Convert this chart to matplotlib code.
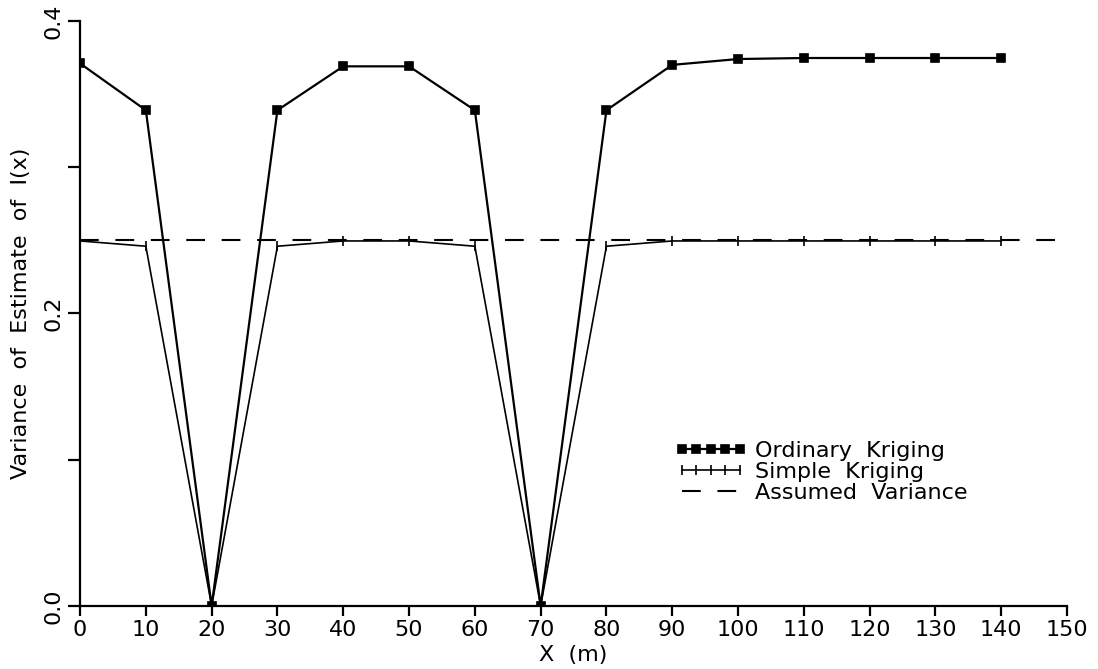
import numpy as np
import matplotlib.pyplot as plt
from matplotlib.ticker import MultipleLocator

# distance along the line (m)
x_pos = [0, 10, 20, 30, 40, 50, 60, 70, 80, 90, 100, 110, 120, 130, 140]

# kriging variances
ordinary = [0.371, 0.339, 0.0, 0.339, 0.369, 0.369, 0.339, 0.0, 0.339,
            0.370, 0.374, 0.3747, 0.3747, 0.3747, 0.3747]
simple = [0.2496, 0.246, 0.0, 0.246, 0.2496, 0.2496, 0.246, 0.0, 0.246,
          0.2496, 0.2496, 0.2496, 0.2496, 0.2496, 0.2496]
assumed_var = 0.25
assumed_x = [0, 150]

x_ticks = list(range(0, 151, 10))
y_ticks = [0.0, 0.2, 0.4]

plt.rcParams['font.family'] = ['DejaVu Sans']

fig = plt.figure(figsize=(10.98, 6.69), dpi=100)
ax = fig.add_axes([0.0729, 0.0942, 0.8989, 0.8744])

ax.plot(x_pos, ordinary, color='black', lw=1.6, marker='s', ms=5.5,
        mfc='black', mec='black', mew=1.2, label='Ordinary  Kriging')
ax.plot(x_pos, simple, color='black', lw=1.2, marker='|', ms=7,
        mew=1.2, label='Simple  Kriging')
ax.plot(assumed_x, [assumed_var, assumed_var], color='black', lw=1.5,
        linestyle=(0, (9, 8)), label='Assumed  Variance')

ax.set_xlim(0, 150)
ax.set_ylim(0, 0.4)
ax.set_xticks(x_ticks)
ax.set_yticks(y_ticks)
ax.set_yticklabels(['0.0', '0.2', '0.4'], rotation=90, va='center')
ax.yaxis.set_minor_locator(MultipleLocator(0.1))

for side in ['top', 'right']:
    ax.spines[side].set_visible(False)
for side in ['left', 'bottom']:
    ax.spines[side].set_linewidth(1.6)

ax.tick_params(axis='x', direction='out', length=7, width=1.6,
               labelsize=16, pad=3)
ax.tick_params(axis='y', which='both', direction='out', length=9,
               width=1.6, labelsize=16, pad=3)

ax.set_xlabel('X  (m)', fontsize=16, labelpad=4)
ax.set_ylabel('Variance  of  Estimate  of  I(x)', fontsize=16, labelpad=9)

ax.legend(loc='upper left', bbox_to_anchor=(0.603, 0.282), frameon=False,
          fontsize=16, numpoints=5, handlelength=3.2, handletextpad=0.4,
          labelspacing=0.05, borderpad=0, borderaxespad=0)

fig.savefig('out.png', dpi=100)
